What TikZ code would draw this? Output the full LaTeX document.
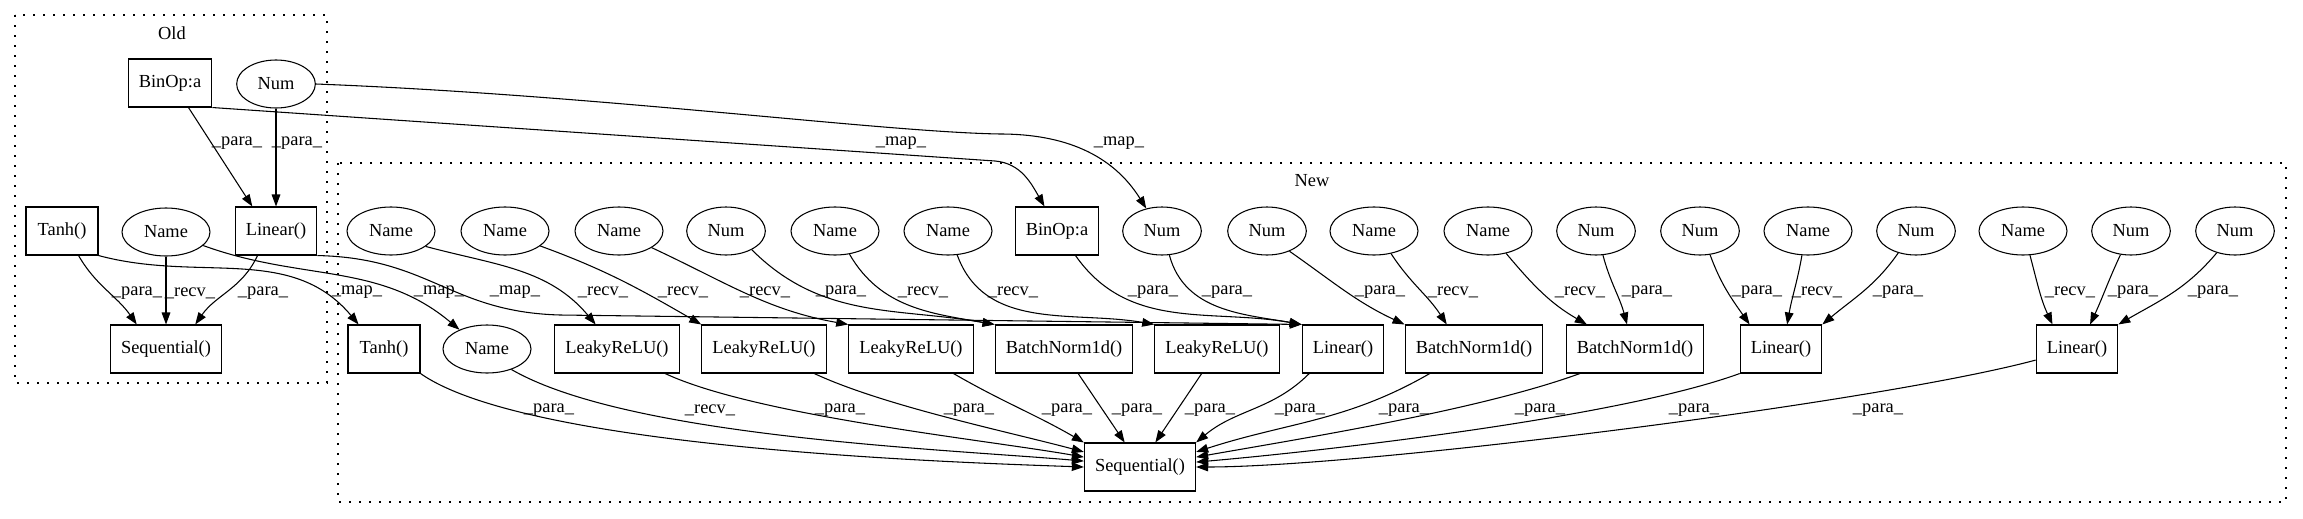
\documentclass[tikz,border=0pt]{standalone}
\usepackage{fontspec}
\setmainfont{Liberation Serif}
\usetikzlibrary{arrows.meta,shapes.geometric}
\newcommand{\gvfont}{\rmfamily\fontsize{13.8}{15}\selectfont}
\tikzset{
  gnode/.style={draw=black, line width=0.8pt, font=\gvfont, inner sep=0pt},
  gbox/.style={gnode, rectangle, minimum height=36pt, minimum width=54pt, inner xsep=8pt},
  nameell/.style={gnode, ellipse, minimum height=36pt, minimum width=66pt},
  numell/.style={gnode, ellipse, minimum height=36pt, minimum width=59pt},
  arr/.style={-{Triangle[length=9pt,width=6.5pt]}, line width=0.8pt},
  lbl/.style={font=\gvfont, inner sep=0pt},
  clus/.style={draw=black, line width=0.9pt, dash pattern=on 1.2pt off 6.3pt}
}
\begin{document}
\begin{tikzpicture}[x=0.75pt,y=-0.75pt]
  \useasboundingbox (0,0) rectangle (2303,518);
  % clusters
  \draw[clus] (15,15) rectangle (327,383);
  \node[lbl] (oldlbl) at (172,33) {Old};
  \draw[clus] (338,163) rectangle (2286,502);
  \node[lbl] (newlbl) at (1312,181) {New};

  % old
  \node[gbox] (obin) at (170,83) {BinOp:a};
  \node[numell] (onum) at (276,84) {Num};
  \node[gbox] (otanh) at (62,231) {Tanh()};
  \node[nameell] (oname) at (166,232) {Name};
  \node[gbox] (olin) at (276,231) {Linear()};
  \node[gbox] (oseq) at (166,349) {Sequential()};

  % new, top row
  \node[nameell] (t1) at (391,231) {Name};
  \node[nameell] (t2) at (505,231) {Name};
  \node[nameell] (t3) at (619,231) {Name};
  \node[numell] (t4) at (726,231) {Num};
  \node[nameell] (t5) at (835,231) {Name};
  \node[nameell] (t6) at (948,231) {Name};
  \node[gbox] (t7) at (1057,231) {BinOp:a};
  \node[numell] (t8) at (1162,231) {Num};
  \node[numell] (t9) at (1267,231) {Num};
  \node[nameell] (t10) at (1374,231) {Name};
  \node[nameell] (t11) at (1488,231) {Name};
  \node[numell] (t12) at (1596,231) {Num};
  \node[numell] (t13) at (1700,231) {Num};
  \node[nameell] (t14) at (1808,231) {Name};
  \node[numell] (t15) at (1916,231) {Num};
  \node[nameell] (t16) at (2023,231) {Name};
  \node[numell] (t17) at (2131,231) {Num};
  \node[numell] (t18) at (2235,231) {Num};

  % new, bottom row
  \node[gbox] (b1) at (384,349) {Tanh()};
  \node[nameell] (b2) at (487,349) {Name};
  \node[gbox] (b3) at (617,349) {LeakyReLU()};
  \node[gbox] (b4) at (764,349) {LeakyReLU()};
  \node[gbox] (b5) at (911,349) {LeakyReLU()};
  \node[gbox] (b6) at (1064,349) {BatchNorm1d()};
  \node[gbox] (b7) at (1217,349) {LeakyReLU()};
  \node[gbox] (b8) at (1343,349) {Linear()};
  \node[gbox] (b9) at (1474,349) {BatchNorm1d()};
  \node[gbox] (b10) at (1635,349) {BatchNorm1d()};
  \node[gbox] (b11) at (1781,349) {Linear()};
  \node[gbox] (b12) at (2077,349) {Linear()};
  \node[gbox] (nseq) at (1140,467) {Sequential()};

  % old edges
  \draw[arr] (obin.-53) -- (olin.134) node[lbl] at (237,143) {\_para\_};
  \draw[arr] (onum) -- (olin) node[lbl] at (297,143) {\_para\_};
  \draw[arr] (otanh.-56) to[out=-60,in=125] (oseq.140) node[lbl] at (137,293) {\_para\_};
  \draw[arr] (oname) -- (oseq) node[lbl] at (190,293) {\_recv\_};
  \draw[arr] (olin.-127) to[out=-115,in=55] (oseq.40) node[lbl] at (263,293) {\_para\_};

  % old -> new
  \draw[arr] (obin.south east) -- (995,161) to[out=-5,in=120] (t7.117) node[lbl] at (901,143) {\_map\_};
  \draw[arr] (onum.east) .. controls (600,95) and (880,132) .. (1000,134) to[out=0,in=122] (t8.125) node[lbl] at (1119,143) {\_map\_};
  \draw[arr] (otanh.south east) to[out=-15,in=130] (b1.136) node[lbl] at (357,292) {\_map\_};
  \draw[arr] (oname.-20) to[out=-20,in=140] (b2.145) node[lbl] at (439,292) {\_map\_};
  \draw[arr] (olin.south east) .. controls (430,258) and (450,312) .. (560,315) -- (b8.north west) node[lbl] at (515,292) {\_map\_};

  % new, top -> bottom
  \draw[arr] (t1.-24) to[out=-15,in=130] (b3.131) node[lbl] at (603,292) {\_recv\_};
  \draw[arr] (t2.-23) to[out=-20,in=150] (b4.north west) node[lbl] at (683,292) {\_recv\_};
  \draw[arr] (t3.-27) to[out=-25,in=170] (b5.north west) node[lbl] at (765,292) {\_recv\_};
  \draw[arr] (t4.-36) to[out=-45,in=170] (b6.north west) node[lbl] at (841,292) {\_para\_};
  \draw[arr] (t5.-58) to[out=-60,in=170] (b6.north west) node[lbl] at (923,292) {\_recv\_};
  \draw[arr] (t6.-69) to[out=-70,in=170] (b7.north west) node[lbl] at (1013,292) {\_recv\_};
  \draw[arr] (t7.-53) to[out=-55,in=170] (b8.north west) node[lbl] at (1153,292) {\_para\_};
  \draw[arr] (t8.-73) to[out=-75,in=170] (b8.north west) node[lbl] at (1227,292) {\_para\_};
  \draw[arr] (t9.-42) to[out=-35,in=155] (b9.north west) node[lbl] at (1380,292) {\_para\_};
  \draw[arr] (t10.-53) to[out=-57,in=123] (b9.138) node[lbl] at (1453,292) {\_recv\_};
  \draw[arr] (t11.-51) to[out=-50,in=150] (b10.153) node[lbl] at (1580,292) {\_recv\_};
  \draw[arr] (t12.-74) to[out=-75,in=105] (b10.108) node[lbl] at (1647,292) {\_para\_};
  \draw[arr] (t13.-67) to[out=-70,in=125] (b11.142) node[lbl] at (1757,292) {\_para\_};
  \draw[arr] (t14.-104) to[out=-100,in=80] (b11.76) node[lbl] at (1817,292) {\_recv\_};
  \draw[arr] (t15.-129) to[out=-125,in=40] (b11.north east) node[lbl] at (1898,292) {\_para\_};
  \draw[arr] (t16.-74) to[out=-75,in=115] (b12.135) node[lbl] at (2070,292) {\_recv\_};
  \draw[arr] (t17.-114) to[out=-115,in=65] (b12.62) node[lbl] at (2133,292) {\_para\_};
  \draw[arr] (t18.-130) to[out=-130,in=30] (b12.north east) node[lbl] at (2213,292) {\_para\_};

  % new, bottom -> Sequential()
  \draw[arr] (b1.south east) to[out=-35,in=178,looseness=0.5] (nseq.west) node[lbl] at (549,410) {\_para\_};
  \draw[arr] (b2.-40) to[out=-30,in=175,looseness=0.6] (nseq.174) node[lbl] at (710,410) {\_recv\_};
  \draw[arr] (b3.-27) to[out=-25,in=170,looseness=0.6] (nseq.170) node[lbl] at (840,410) {\_para\_};
  \draw[arr] (b4.-26) to[out=-25,in=165,looseness=0.7] (nseq.165) node[lbl] at (969,410) {\_para\_};
  \draw[arr] (b5.-30) to[out=-30,in=150] (nseq.north west) node[lbl] at (1067,410) {\_para\_};
  \draw[arr] (b6.-60) -- (nseq.122) node[lbl] at (1137,410) {\_para\_};
  \draw[arr] (b7.-122) -- (nseq.58) node[lbl] at (1210,410) {\_para\_};
  \draw[arr] (b8.-144) to[out=-135,in=40] (nseq.north east) node[lbl] at (1300,410) {\_para\_};
  \draw[arr] (b9.-151) to[out=-150,in=18] (nseq.15) node[lbl] at (1404,410) {\_para\_};
  \draw[arr] (b10.-156) to[out=-160,in=10,looseness=0.7] (nseq.10) node[lbl] at (1540,410) {\_para\_};
  \draw[arr] (b11.south west) to[out=-160,in=5,looseness=0.6] (nseq.5) node[lbl] at (1694,410) {\_para\_};
  \draw[arr] (b12.195) to[out=-165,in=0,looseness=0.5] (nseq.east) node[lbl] at (1878,410) {\_para\_};
\end{tikzpicture}
\end{document}
